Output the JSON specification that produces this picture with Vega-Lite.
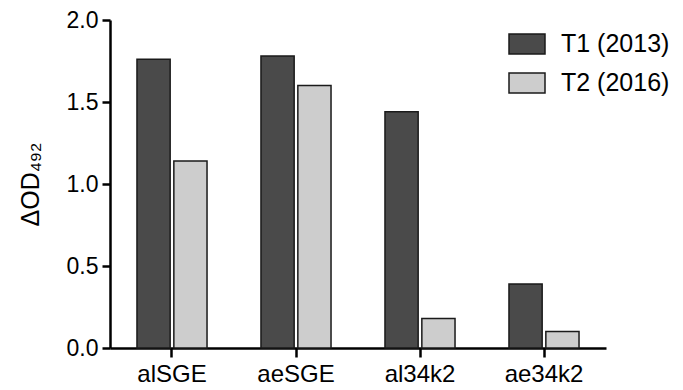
{
  "$schema": "https://vega.github.io/schema/vega-lite/v6.json",
  "autosize": "none",
  "width": 496,
  "height": 328,
  "padding": {"left": 110, "top": 20, "right": 77, "bottom": 42},
  "background": "white",
  "config": {
    "font": "Liberation Sans",
    "view": {"stroke": null}
  },
  "data": {
    "values": [
      {"antigen": "alSGE", "time": "T1 (2013)", "od": 1.76},
      {"antigen": "alSGE", "time": "T2 (2016)", "od": 1.14},
      {"antigen": "aeSGE", "time": "T1 (2013)", "od": 1.78},
      {"antigen": "aeSGE", "time": "T2 (2016)", "od": 1.60},
      {"antigen": "al34k2", "time": "T1 (2013)", "od": 1.44},
      {"antigen": "al34k2", "time": "T2 (2016)", "od": 0.18},
      {"antigen": "ae34k2", "time": "T1 (2013)", "od": 0.39},
      {"antigen": "ae34k2", "time": "T2 (2016)", "od": 0.10}
    ]
  },
  "mark": {"type": "bar", "stroke": "#1a1a1a", "strokeWidth": 1.5},
  "encoding": {
    "x": {
      "field": "antigen",
      "type": "nominal",
      "sort": ["alSGE", "aeSGE", "al34k2", "ae34k2"],
      "scale": {"paddingInner": 0.435, "paddingOuter": 0.2175},
      "axis": {
        "title": null,
        "labelAngle": 0,
        "labelFontSize": 24,
        "labelColor": "black",
        "labelPadding": 5,
        "domainColor": "black",
        "domainWidth": 2.5,
        "tickColor": "black",
        "tickWidth": 2.5,
        "tickSize": 9
      }
    },
    "xOffset": {
      "field": "time",
      "type": "nominal",
      "scale": {"paddingInner": 0.1, "paddingOuter": 0}
    },
    "y": {
      "field": "od",
      "type": "quantitative",
      "scale": {"domain": [0, 2], "nice": false},
      "axis": {
        "title": "ΔOD₄₉₂",
        "titleFontSize": 25,
        "titleFontWeight": "normal",
        "titleColor": "black",
        "titleX": -80,
        "titleY": 164,
        "titleAngle": 270,
        "titleAlign": "center",
        "titleBaseline": "middle",
        "values": [0, 0.5, 1, 1.5, 2],
        "format": ".1f",
        "grid": false,
        "labelFontSize": 23,
        "labelColor": "black",
        "labelPadding": 4,
        "domainColor": "black",
        "domainWidth": 2.5,
        "tickColor": "black",
        "tickWidth": 2.5,
        "tickSize": 8
      }
    },
    "fill": {
      "field": "time",
      "type": "nominal",
      "scale": {"domain": ["T1 (2013)", "T2 (2016)"], "range": ["#4a4a4a", "#cdcdcd"]},
      "legend": {
        "title": null,
        "orient": "none",
        "legendX": 398,
        "legendY": 5,
        "padding": 0,
        "symbolType": "M-1,-0.55H1V0.55H-1Z",
        "symbolSize": 1296,
        "symbolStrokeColor": "#1a1a1a",
        "symbolStrokeWidth": 1.5,
        "labelFontSize": 25,
        "labelColor": "black",
        "labelOffset": 15,
        "rowPadding": 7,
        "labelLimit": 300
      }
    }
  }
}
